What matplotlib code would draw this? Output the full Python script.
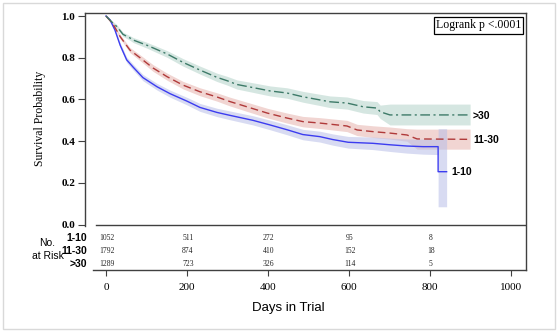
import matplotlib
matplotlib.use("Agg")
import matplotlib.pyplot as plt
from matplotlib.patches import Rectangle

# ---------------- data ----------------
groups = ["1-10", "11-30", ">30"]

x_110 = [0, 10, 22, 35, 51, 67, 91, 126, 158, 200, 232, 274, 306, 363, 405, 447, 486, 528, 560, 598, 659, 701, 743, 783, 820, 820, 841]
s_110 = [1.0, 0.981, 0.933, 0.86, 0.79, 0.755, 0.705, 0.661, 0.628, 0.592, 0.562, 0.538, 0.524, 0.50, 0.478, 0.455, 0.432, 0.422, 0.408, 0.395, 0.39, 0.383, 0.377, 0.374, 0.374, 0.254, 0.254]
lo_110 = [1.0, 0.975, 0.924, 0.848, 0.777, 0.741, 0.690, 0.645, 0.611, 0.574, 0.543, 0.518, 0.503, 0.478, 0.455, 0.431, 0.407, 0.396, 0.381, 0.367, 0.360, 0.351, 0.343, 0.338, 0.336, 0.086, 0.086]
hi_110 = [1.0, 0.987, 0.942, 0.872, 0.803, 0.769, 0.720, 0.677, 0.645, 0.610, 0.581, 0.558, 0.545, 0.522, 0.501, 0.479, 0.457, 0.448, 0.435, 0.423, 0.420, 0.415, 0.411, 0.410, 0.412, 0.46, 0.46]

x_1130 = [0, 17, 35, 59, 84, 116, 151, 190, 232, 274, 306, 348, 398, 447, 486, 528, 595, 620, 659, 701, 743, 768, 899]
s_1130 = [1.0, 0.962, 0.901, 0.837, 0.80, 0.751, 0.709, 0.669, 0.637, 0.612, 0.590, 0.565, 0.535, 0.511, 0.494, 0.487, 0.473, 0.454, 0.446, 0.439, 0.430, 0.411, 0.409]
lo_1130 = [1.0, 0.955, 0.891, 0.825, 0.786, 0.735, 0.692, 0.651, 0.618, 0.592, 0.569, 0.543, 0.512, 0.487, 0.469, 0.461, 0.446, 0.427, 0.418, 0.410, 0.400, 0.362, 0.362]
hi_1130 = [1.0, 0.969, 0.911, 0.849, 0.814, 0.767, 0.726, 0.687, 0.656, 0.632, 0.611, 0.587, 0.558, 0.535, 0.519, 0.513, 0.500, 0.481, 0.474, 0.468, 0.460, 0.458, 0.458]

x_30 = [0, 17, 27, 42, 59, 67, 101, 151, 190, 232, 274, 299, 323, 363, 405, 447, 486, 528, 553, 595, 635, 669, 677, 701, 899]
s_30 = [1.0, 0.966, 0.949, 0.912, 0.895, 0.885, 0.860, 0.818, 0.778, 0.741, 0.706, 0.690, 0.672, 0.657, 0.641, 0.631, 0.613, 0.598, 0.589, 0.583, 0.565, 0.559, 0.541, 0.526, 0.526]
lo_30 = [1.0, 0.958, 0.940, 0.902, 0.884, 0.873, 0.846, 0.802, 0.760, 0.722, 0.686, 0.669, 0.650, 0.634, 0.617, 0.606, 0.587, 0.571, 0.561, 0.554, 0.535, 0.528, 0.509, 0.478, 0.478]
hi_30 = [1.0, 0.974, 0.958, 0.922, 0.906, 0.897, 0.874, 0.834, 0.796, 0.760, 0.726, 0.711, 0.694, 0.680, 0.665, 0.656, 0.639, 0.625, 0.617, 0.612, 0.595, 0.590, 0.573, 0.578, 0.578]

risk_times = [0, 200, 400, 600, 800]
risk_110 = [1052, 511, 272, 95, 8]
risk_1130 = [1792, 874, 410, 152, 18]
risk_30 = [1289, 723, 326, 114, 5]

x_ticks = [0, 200, 400, 600, 800, 1000]
y_ticks = [0.0, 0.2, 0.4, 0.6, 0.8, 1.0]

# ---------------- figure ----------------
W, H = 558, 332
fig = plt.figure(figsize=(W / 100, H / 100), dpi=100)
fig.patch.set_facecolor("white")
fig.patches.append(Rectangle((3 / W, 3 / H), (W - 6) / W, (H - 6) / H, transform=fig.transFigure,
                             fill=False, edgecolor="#d9d9d9", lw=1.0))

ax = fig.add_axes([85 / W, 1 - 270 / H, 440.6 / W, 257 / H])
XMIN, XMAX = -51.85, 1036
YMIN, YMAX = -0.217, 1.0144
ax.set_xlim(XMIN, XMAX)
ax.set_ylim(YMIN, YMAX)

serif = "Liberation Serif"
sans = "Liberation Sans"
spine_c = "#404040"

# bands
ax.fill_between(x_30, lo_30, hi_30, color="#b3d3c9", alpha=0.55, lw=0, zorder=1)
ax.fill_between(x_1130, lo_1130, hi_1130, color="#e6b3ad", alpha=0.55, lw=0, zorder=1)
ax.fill_between(x_110, lo_110, hi_110, color="#b8bfe8", alpha=0.55, lw=0, zorder=1)

# curves
ax.plot(x_110, s_110, color="#3c3cf0", lw=1.0, zorder=3)
l2, = ax.plot(x_1130, s_1130, color="#b03a3a", lw=1.0, zorder=3)
l2.set_dashes([5.5, 3])
l3, = ax.plot(x_30, s_30, color="#3d7a68", lw=1.0, zorder=3)
l3.set_dashes([7, 2.5, 1.5, 2.5])

# curve labels
lab_kw = dict(fontfamily=sans, fontweight="bold", fontsize=7.5, va="center", ha="left", zorder=4)
ax.text(906, 0.521, ">30", **lab_kw)
ax.text(906, 0.408, "11-30", **lab_kw)
ax.text(852, 0.252, "1-10", **lab_kw)

# spines
for s in ax.spines.values():
    s.set_color(spine_c)
    s.set_linewidth(1.0)
ax.spines["left"].set_bounds(-0.008, YMAX)
ax.spines["bottom"].set_bounds(-32, XMAX)
ax.axhline(0, xmin=(-25 - XMIN) / (XMAX - XMIN), xmax=1, color=spine_c, lw=1.0, zorder=2)

# ticks
ax.set_yticks(y_ticks)
ax.set_yticklabels([f"{v:.1f}" for v in y_ticks], fontfamily=serif, fontweight="bold", fontsize=8)
ax.set_xticks(x_ticks)
ax.set_xticklabels([str(v) for v in x_ticks], fontfamily=serif, fontsize=8)
ax.tick_params(axis="y", direction="out", length=5, width=0.8, pad=2, color=spine_c)
ax.tick_params(axis="x", direction="out", length=4, width=0.8, pad=5, color=spine_c)

# logrank box
ax.text(0.990, 0.975, "Logrank p <.0001", transform=ax.transAxes, ha="right", va="top",
        fontfamily=serif, fontsize=8.5,
        bbox=dict(boxstyle="square,pad=0.18", fc="white", ec="black", lw=0.9), zorder=5)

# at-risk table
row_y = [-0.0623, -0.1246, -0.1883]
rows = [risk_110, risk_1130, risk_30]
for g, yv, vals in zip(groups, row_y, rows):
    ax.text(-47, yv, g, ha="right", va="center", fontfamily=sans, fontweight="bold",
            fontsize=7.5, clip_on=False)
    for t, n in zip(risk_times, vals):
        ax.text(t + 2, yv, str(n), ha="center", va="center", fontfamily=serif, fontsize=5.5,
                color="#222222")
fig.text(47 / W, 1 - 243 / H, "No.", ha="center", va="center", fontfamily=sans, fontsize=7.5)
fig.text(48 / W, 1 - 256 / H, "at Risk", ha="center", va="center", fontfamily=sans, fontsize=7.5)

# axis titles
fig.text(40 / W, 1 - 118 / H, "Survival Probability", rotation=90, ha="center", va="center",
         fontfamily=serif, fontsize=8.5)
fig.text(288 / W, 1 - 308 / H, "Days in Trial", ha="center", va="center", fontfamily=sans,
         fontsize=9.5)

fig.savefig("out.png", dpi=100, facecolor="white")
